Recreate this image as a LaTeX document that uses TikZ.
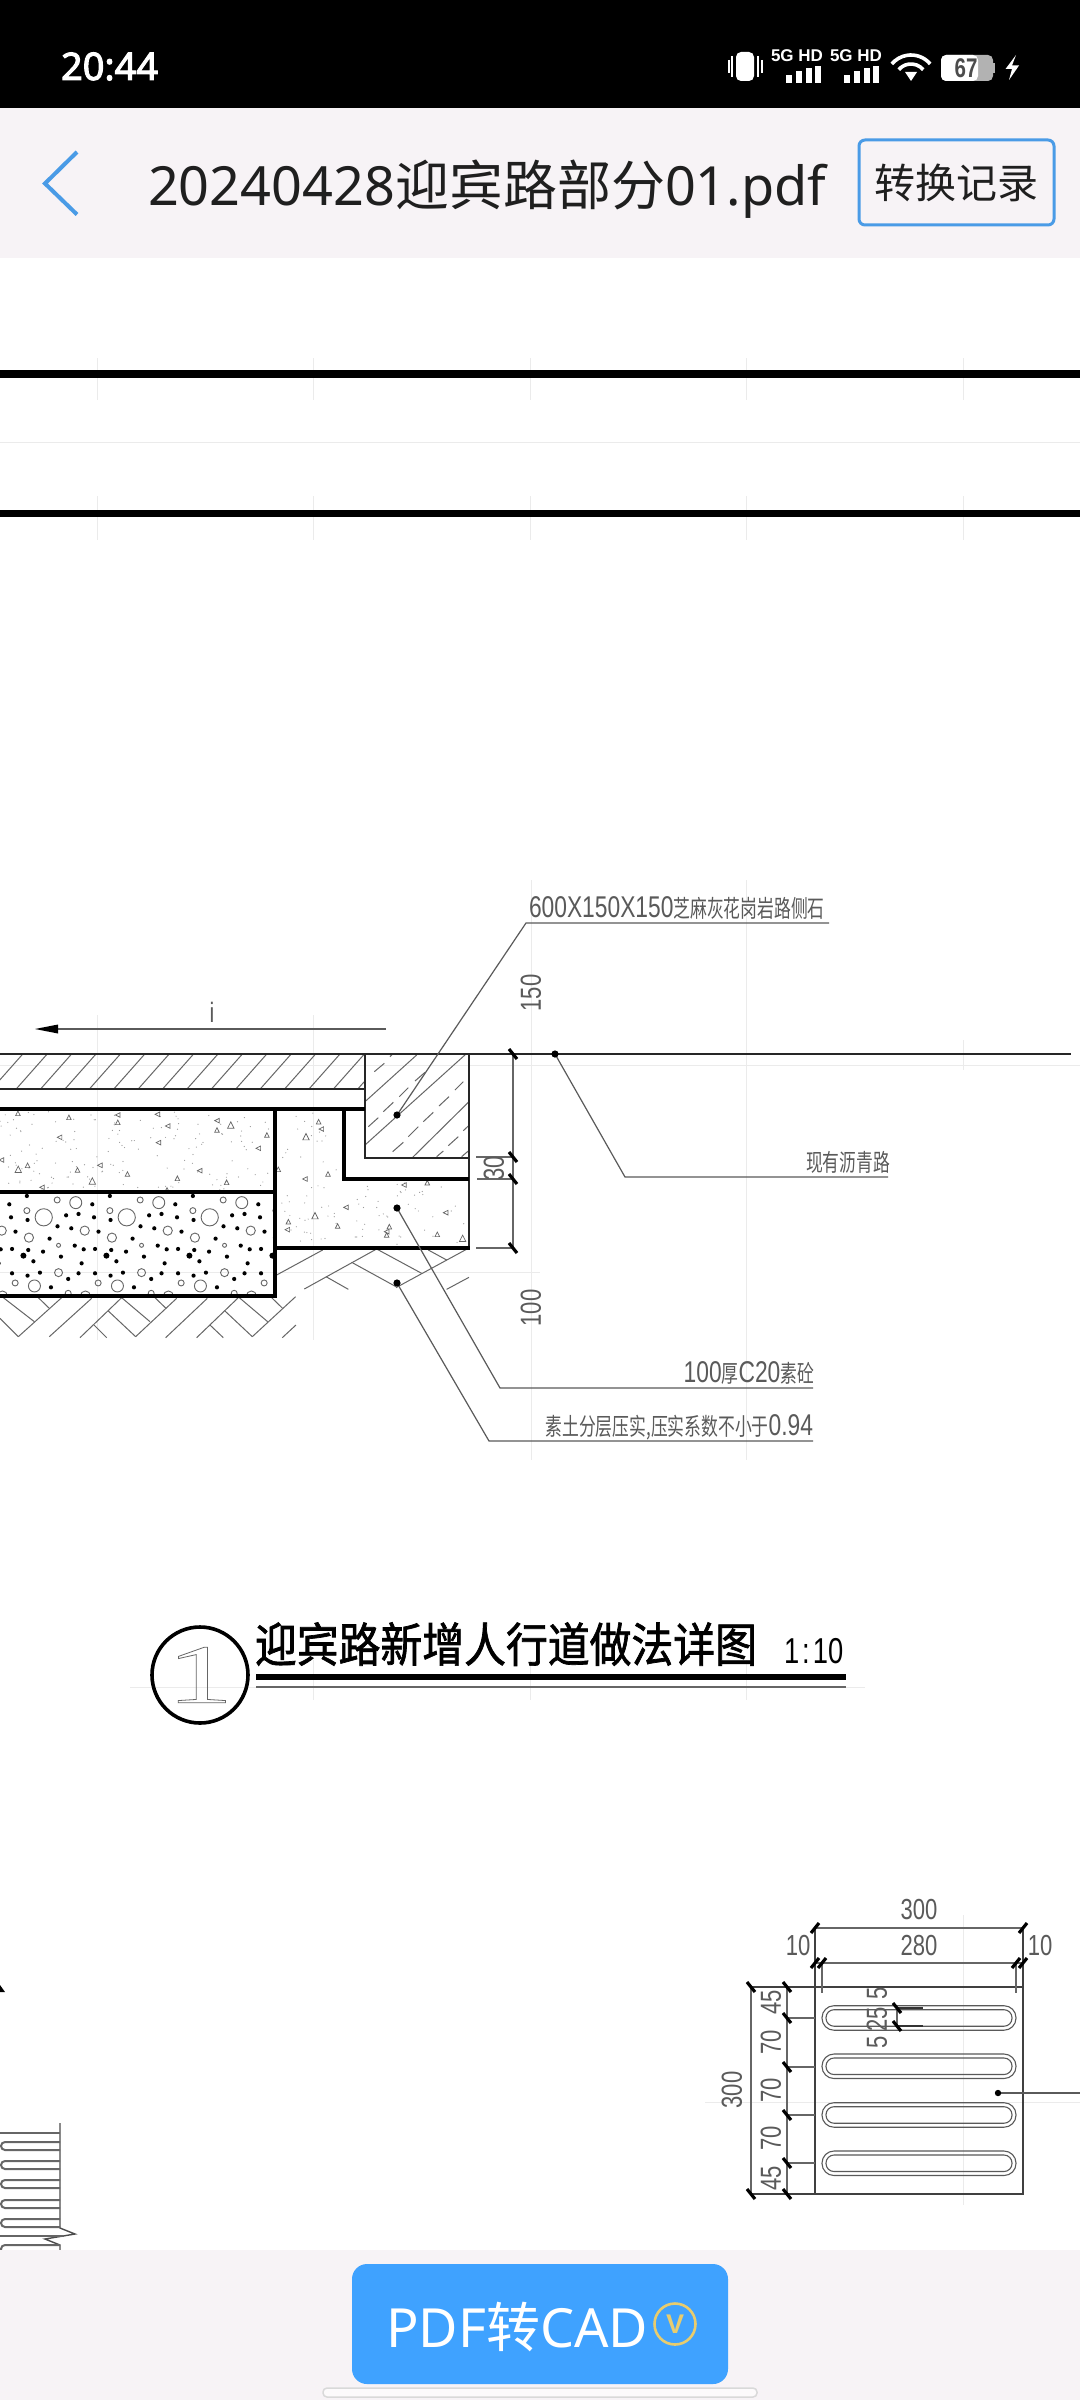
\documentclass[tikz,border=0pt]{standalone}
\usepackage{fontspec}
\setmainfont{Noto Sans}
\newfontfamily\cjkfont{Noto Sans CJK SC}
\newfontfamily\cadfont[FakeStretch=0.76]{Liberation Sans}
\newfontfamily\statusfont{Liberation Sans}
\newfontfamily\cadcjk[FakeStretch=0.7]{Noto Sans CJK SC}
\newfontfamily\cadtitle[FakeStretch=0.89]{Noto Sans CJK SC}
\newfontfamily\serifone[FakeStretch=1.6]{Liberation Serif}
\definecolor{barbg}{HTML}{F7F3F6}
\definecolor{appblue}{HTML}{4A9BE6}
\definecolor{btnblue}{HTML}{3FA2FF}
\definecolor{coingold}{HTML}{E8CC6E}
\definecolor{cadgray}{HTML}{5A5A5A}
\definecolor{faint}{HTML}{EBEBEB}
\newcommand{\fsize}[1]{\fontsize{#1}{#1}\selectfont}
\newcommand{\vtick}[2]{\draw[dimtick] (#1-4,#2-5) -- (#1+4,#2+5);}
\newcommand{\htick}[2]{\draw[dimtick] (#1-4,#2+5) -- (#1+4,#2-5);}
\newcommand{\grit}[4]{\draw[gritline,shift={(#1,#2)},rotate=#4] (-#3pt,-#3pt) -- (#3pt,-#3pt) -- (0pt,#3pt) -- cycle;}
\tikzset{
  txt/.style={inner sep=0pt,outer sep=0pt},
  cadtxt/.style={txt,text=cadgray},
  thinline/.style={line width=1.8pt,black!85},
  thickline/.style={line width=4.2pt,black},
  hatchline/.style={line width=1pt,black!60},
  leader/.style={line width=1.2pt,cadgray},
  dimline/.style={line width=1.4pt,black!60},
  dimtick/.style={line width=3.2pt,black},
  gritline/.style={line width=0.7pt,black!60},
  gridline/.style={line width=0.8pt,faint},
  stad/.style={line width=1.1pt,black!65,rounded corners=#1},
}
\begin{document}
\begin{tikzpicture}[x=1pt,y=-1pt]
\useasboundingbox (0,0) rectangle (1080,2400);
\fill[white] (0,0) rectangle (1080,2400);
% faint grid of the sheet
\foreach \x in {97,313,530,746,963} {
  \draw[gridline] (\x,358) -- (\x,400);
  \draw[gridline] (\x,496) -- (\x,540);
}
\draw[gridline] (0,442) -- (1080,442);
\draw[gridline] (0,1065) -- (1080,1065);
\draw[gridline] (0,1272) -- (540,1272);
\draw[gridline] (97,1015) -- (97,1340);
\draw[gridline] (313,1015) -- (313,1340);
\draw[gridline] (531,880) -- (531,1460);
\draw[gridline] (746,880) -- (746,1460);
\draw[gridline] (963,1040) -- (963,1070);
\draw[gridline] (130,1687) -- (865,1687);
\foreach \x in {313,530,746} \draw[gridline] (\x,1660) -- (\x,1700);
\draw[gridline] (705,2102) -- (1080,2102);
\draw[gridline] (963,1915) -- (963,2205);
% sheet lines
\draw[line width=8pt] (0,374) -- (1080,374);
\draw[line width=7pt] (0,513.5) -- (1080,513.5);
% paving hatch
\begin{scope}
  \clip (0,1054) rectangle (365,1089);
  \foreach \k in {-1,...,14} \draw[hatchline] (47.2+24.4*\k,1054) -- (16.2+24.4*\k,1089);
\end{scope}
% curb hatch
\begin{scope}[shift={(355pt,-1045pt)},x=0.3333pt,y=-0.3333pt]
  \draw[hatchline] (30,170) -- (185,30);
  \draw[hatchline] (30,300) -- (332,28);
  \draw[hatchline] (170,340) -- (342,170);
  \draw[hatchline] (245,335) -- (265,318);
  \draw[hatchline] (320,335) -- (340,318);
  \foreach \a/\b/\c/\d in {58/80/88/55,105/35/112/28,180/108/210/82,133/155/160/128,85/200/115/172,40/245/70/218,300/135/325/110,252/183/282/155,205/230/235/202,160/275/190/245,113/320/145/292,325/257/340/243,280/302/310/275}
    \draw[hatchline] (\a,\b) -- (\c,\d);
\end{scope}
% concrete grit
\pgfmathsetseed{7}
\foreach \i in {1,...,150} {
  \pgfmathsetmacro\rx{rnd*272}
  \pgfmathsetmacro\ry{1111+rnd*79}
  \fill[black!40] (\rx,\ry) circle (0.6pt);
}
\foreach \i in {1,...,45} {
  \pgfmathsetmacro\rx{279+rnd*62}
  \pgfmathsetmacro\ry{1112+rnd*133}
  \fill[black!40] (\rx,\ry) circle (0.6pt);
}
\foreach \i in {1,...,45} {
  \pgfmathsetmacro\rx{345+rnd*122}
  \pgfmathsetmacro\ry{1182+rnd*63}
  \fill[black!40] (\rx,\ry) circle (0.6pt);
}
\begin{scope}[shift={(0pt,-880pt)},x=0.3444pt,y=-0.3333pt]
  \foreach \x/\y/\a in {52/700/0,200/712/0,342/705/90,342/727/0,457/703/90,487/738/90,630/722/90,630/750/0,173/772/90,460/788/90,775/765/0,750/805/90,4/840/90,80/856/0,225/870/0,290/856/90,370/882/0,122/922/90,515/895/0,580/872/90,658/907/0,485/930/0}
    {\grit{\x}{\y}{2.3}{\a}}
  \foreach \x/\y/\a in {670/735/0,53/868/0,268/903/0}
    {\grit{\x}{\y}{3.2}{\a}}
\end{scope}
\begin{scope}[shift={(270pt,-1105pt)},x=0.3333pt,y=-0.3333pt]
  \foreach \x/\y/\a in {146/50/0,154/72/90,25/193/0,105/222/90,174/207/0,402/240/90,472/233/0,228/307/90,55/350/0,52/374/90,203/363/0,358/365/0,350/380/90,350/390/0,527/323/90,502/388/0}
    {\grit{\x}{\y}{2.3}{\a}}
  \foreach \x/\y/\a in {108/95/0,135/332/0,578/400/0}
    {\grit{\x}{\y}{3.2}{\a}}
\end{scope}
% gravel, one tile repeated
\begin{scope}
  \clip (0,1192) rectangle (275,1296);
  \foreach \t in {-83,0,83,166,249} {
    \begin{scope}[shift={(\t pt,-880pt)},x=0.3444pt,y=-0.3333pt]
      \foreach \x/\y in {27/973,78/948,32/1012,80/1020,192/1006,228/1002,167/1039,207/1045,45/1055,144/1076,217/1097,2/1108,35/1107,82/1110,125/1115,97/1144,177/1130,237/1150,35/1180,80/1187,116/1178,228/1180,198/1197,148/1222}
        \fill (\x,\y) circle (2.1pt);
      \fill (68,1127) circle (3pt);
      \foreach \x/\y/\r in {127/1012/8.6,220/968/6,100/1218/6,84/1073/4.6,78/992/3,166/960/3,170/1178/4,5/1052/4.6,44/1209/3,170/1096/2,198/1240/3,248/1248/5}
        \draw[line width=0.9pt,black!60] (\x,\y) circle (\r pt);
    \end{scope}
  }
\end{scope}
% soil hatch
\begin{scope}[shift={(0pt,-1285pt)},x=0.3333pt,y=-0.3333pt]
  \foreach \a/\b/\c/\d in {0/100/55/155,55/155/185/38,10/38/103/110,115/38/148/70,148/155/275/40,240/158/365/38,282/120/320/158,325/78/407/155,365/38/450/110,407/155/530/40,465/38/498/70,497/158/622/40,590/158/715/38,630/120/670/158,675/78/757/155,718/38/803/110,757/155/887/35,815/38/848/70,847/158/888/120}
    \draw[hatchline] (\a,\b) -- (\c,\d);
\end{scope}
\begin{scope}[shift={(270pt,-1105pt)},x=0.3333pt,y=-0.3333pt]
  \foreach \a/\b/\c/\d in {20/510/158/435,103/552/320/432,168/515/235/553,245/472/378/545,320/432/455/505,378/548/595/430,475/435/530/465,530/553/597/517}
    \draw[hatchline] (\a,\b) -- (\c,\d);
\end{scope}
% section outlines
\draw[thinline] (0,1054) -- (1071,1054);
\draw[thinline] (0,1089) -- (365,1089);
\draw[thinline] (365,1054) -- (365,1158) -- (469,1158);
\draw[thinline] (469,1054) -- (469,1248);
\draw[thickline] (0,1109) -- (365,1109);
\draw[thickline] (0,1192) -- (275,1192);
\draw[thickline] (0,1296) -- (275,1296) -- (275,1109);
\draw[thickline] (344,1109) -- (344,1179) -- (469,1179);
\draw[thickline] (275,1248) -- (470,1248);
% flow arrow
\draw[leader] (386,1029) -- (56,1029);
\fill[black] (35,1029) -- (58,1024.5) -- (58,1033.5) -- cycle;
\node[cadtxt,font=\cadfont\fsize{28}] (slopelabel) at (212,1012) {i};
% right dimensions
\draw[dimline] (513,1054) -- (513,1248);
\foreach \a/\b in {476/1157,477/1179,476/1248} \draw[dimline] (\a,\b) -- (513,\b);
\foreach \y in {1054,1157,1179,1248} {\vtick{513}{\y}}
\node[cadtxt,rotate=90,font=\cadfont\fsize{29}] (dimtop) at (531,993) {150};
\node[cadtxt,rotate=90,font=\cadfont\fsize{29}] (dimgap) at (494,1168) {30};
\node[cadtxt,rotate=90,font=\cadfont\fsize{29}] (dimbase) at (531,1308) {100};
% callouts
\coordinate (curbdot) at (397,1115);
\coordinate (asphaltdot) at (555,1054);
\coordinate (concretedot) at (397,1208);
\coordinate (soildot) at (397,1283);
\coordinate (curbbend) at (526,923);
\coordinate (curbend) at (829,923);
\coordinate (asphaltbend) at (625,1177);
\coordinate (asphaltend) at (888,1177);
\coordinate (concretebend) at (500,1388);
\coordinate (concreteend) at (813,1388);
\coordinate (soilbend) at (489,1441);
\coordinate (soilend) at (813,1441);
\draw[leader] (curbdot) -- (curbbend) -- (curbend);
\draw[leader] (asphaltdot) -- (asphaltbend) -- (asphaltend);
\draw[leader] (concretedot) -- (concretebend) -- (concreteend);
\draw[leader] (soildot) -- (soilbend) -- (soilend);
\foreach \n in {curbdot,asphaltdot,concretedot,soildot} \fill (\n) circle (3.6pt);
\node[cadtxt,anchor=base west,font=\cadcjk\fsize{24}] (curblabel) at (529,917) {{\cadfont\fsize{30}600X150X150}芝麻灰花岗岩路侧石};
\node[cadtxt,anchor=base east,font=\cadcjk\fsize{24}] (asphaltlabel) at (890,1171) {现有沥青路};
\node[cadtxt,anchor=base east,font=\cadcjk\fsize{24}] (concretelabel) at (814,1382) {{\cadfont\fsize{30}100}厚{\cadfont\fsize{30}C20}素砼};
\node[cadtxt,anchor=base east,font=\cadcjk\fsize{24}] (soillabel) at (813,1435) {素土分层压实,压实系数不小于{\cadfont\fsize{30}0.94}};
% detail title
\node[draw=black,line width=3.6pt,circle,minimum size=96pt,inner sep=0pt] (detailmark) at (200,1675) {};
\node[txt,text=black!60,font=\serifone\fsize{84}] (detailnum) at (200,1675) {\special{pdf:code 1 Tr 0.8 w}1\special{pdf:code 0 Tr 1 w}};
\node[txt,anchor=base west,font=\cadtitle\fsize{47}] (detailtitle) at (255,1662) {\special{pdf:code 2 Tr 0.7 w}迎宾路新增人行道做法详图\special{pdf:code 0 Tr 1 w}};
\node[txt,anchor=base west,font=\cadfont\fsize{36}] (detailscale) at (784,1663) {1\kern3pt:\kern3pt 10};
\draw[line width=6pt] (256,1677) -- (846,1677);
\draw[line width=1.5pt,black!60] (256,1687) -- (846,1687);
% paver plan
\draw[dimline,black!75] (815,1928) -- (815,2194) -- (1023,2194) -- (1023,1928);
\draw[dimline,black!75] (751,1987) -- (1023,1987);
\draw[dimline,black!75] (751,2194) -- (815,2194);
\draw[dimline] (815,1928) -- (1023,1928);
\draw[dimline] (815,1963) -- (1023,1963);
\draw[dimline] (822,1963) -- (822,1993);
\draw[dimline] (1016,1963) -- (1016,1993);
\draw[dimline] (751,1987) -- (751,2194);
\draw[dimline] (787,1987) -- (787,2194);
\foreach \y in {2018,2067,2115,2163} \draw[dimline] (787,\y) -- (815,\y);
\foreach \y in {1987,2018,2067,2115,2163,2194} {\vtick{787}{\y}}
\foreach \y in {1987,2194} {\vtick{751}{\y}}
\foreach \x in {815,1023} {\htick{\x}{1928}}
\foreach \x in {815,822,1016,1023} {\htick{\x}{1963}}
\foreach \y in {2005.7,2054,2102.7,2151} {
  \draw[stad=12pt] (822,\y) rectangle (1016,\y+24.5);
  \draw[stad=8pt] (826,\y+4) rectangle (1012,\y+20.5);
}
\draw[dimline] (897,2008) -- (897,2026);
\draw[dimline,black!80] (897,2008) -- (923,2008);
\draw[dimline,black!80] (897,2026) -- (923,2026);
\vtick{897}{2008}
\vtick{897}{2026}
\coordinate (paverdot) at (998,2093);
\coordinate (paverout) at (1080,2093);
\draw[leader] (paverdot) -- (paverout);
\fill (paverdot) circle (3.2pt);
\node[cadtxt,font=\cadfont\fsize{29}] (dimwide) at (919,1909) {300};
\node[cadtxt,font=\cadfont\fsize{29}] (diminner) at (919,1945) {280};
\node[cadtxt,font=\cadfont\fsize{29}] (dimleft) at (798,1945) {10};
\node[cadtxt,font=\cadfont\fsize{29}] (dimright) at (1040,1945) {10};
\foreach \n/\t/\y in {dima/45/2002,dimb/70/2042,dimc/70/2090,dimd/70/2138,dime/45/2178}
  \node[cadtxt,rotate=90,font=\cadfont\fsize{29}] (\n) at (771,\y) {\t};
\node[cadtxt,rotate=90,font=\cadfont\fsize{29}] (dimtall) at (732,2090) {300};
\node[cadtxt,rotate=90,font=\cadfont\fsize{29}] (dimrida) at (877,2042.7) {5};
\node[cadtxt,rotate=90,font=\cadfont\fsize{29}] (dimridb) at (877,2019) {25};
\node[cadtxt,rotate=90,font=\cadfont\fsize{29}] (dimridc) at (877,1993.3) {5};
% edge of the neighbouring plan
\draw[line width=1.4pt,black!70] (60,2123) -- (60,2228) -- (75,2234) -- (45,2239) -- (60,2245) -- (60,2251);
\draw[line width=1.4pt,black!60] (0,2133) -- (60,2133);
\draw[line width=1.4pt,black!60] (0,2236) -- (64,2236);
\foreach \y in {2142,2161,2180,2200,2219}
  \draw[line width=2pt,black!60,rounded corners=4pt] (60,\y) -- (1,\y) -- (1,\y+8) -- (60,\y+8);
\draw[line width=2pt,black!60,rounded corners=4pt] (60,2245) -- (1,2245) -- (1,2251);
\fill (0,1985) -- (5,1992) -- (0,1992) -- cycle;
% top bars
\fill[black] (0,0) rectangle (1080,108);
\fill[barbg] (0,108) rectangle (1080,258);
\node[txt,anchor=base west,text=white,font=\fsize{38}] (clock) at (61,80) {\special{pdf:code 2 Tr 1 w}20:44\special{pdf:code 0 Tr 1 w}};
\fill[white,rounded corners=5pt] (736,52) rectangle (754,81);
\foreach \x/\a/\b in {729/60/73,732/56/77,758/56/77,762/60/73} \draw[white,line width=1.4pt] (\x,\a) -- (\x,\b);
\node[txt,anchor=base west,text=white,font=\statusfont\bfseries\fsize{17}] (netone) at (771,62) {5G HD};
\node[txt,anchor=base west,text=white,font=\statusfont\bfseries\fsize{17}] (nettwo) at (830,62) {5G HD};
\foreach \s in {786,844} \foreach \d/\e in {0/75,10/71,20/68,29/66}
  \fill[white] (\s+\d,\e) rectangle (\s+\d+6,83);
\foreach \r in {25,16} \draw[white,line width=3.6pt] (911,80) ++(40:\r pt) arc[start angle=40,end angle=140,radius=\r pt];
\fill[white] (911,81) -- (905,72) -- (917,72) -- cycle;
\fill[black!30,rounded corners=5pt] (941,55) rectangle (993,81);
\fill[white,rounded corners=5pt] (941,55) rectangle (978,81);
\fill[black!30] (993,63) rectangle (995,73);
\node[txt,text=black!70,font=\cadfont\bfseries\fsize{27}] (battlevel) at (966,68) {67};
\fill[white] (1016,55) -- (1005.5,69) -- (1012,69) -- (1009,80) -- (1019,65.5) -- (1012,65.5) -- cycle;
\coordinate (chevtop) at (77,152);
\coordinate (chevtip) at (45,183.5);
\coordinate (chevlow) at (77,214.5);
\draw[appblue,line width=4pt] (chevtop) -- (chevtip) -- (chevlow);
\node[txt,anchor=base west,text=black!88,font=\fsize{54}] (filetitle) at (148,206) {20240428{\cjkfont 迎宾路部分}01.pdf};
\node[draw=appblue,line width=3pt,rounded corners=6pt,minimum width=195pt,minimum height=85pt,inner sep=0pt,text=black!88,font=\cjkfont\fsize{41}] (history) at (956.5,182.5) {\raisebox{-2pt}{转换记录}};
% bottom bar
\fill[barbg] (0,2250) rectangle (1080,2400);
\node[fill=btnblue,rounded corners=15pt,minimum width=376pt,minimum height=120pt,inner sep=0pt] (cadbtn) at (540,2324) {};
\node[txt,anchor=base west,text=white,font=\fsize{54}] (cadlabel) at (386,2347) {PDF{\cjkfont 转}CAD};
\node[circle,draw=coingold,line width=2.6pt,minimum size=41pt,inner sep=0pt,text=coingold,font=\statusfont\bfseries\fsize{27}] (coin) at (675,2324) {V};
\draw[black!15,fill=barbg!40!white,line width=1.5pt,rounded corners=4pt] (323,2388) rectangle (757,2397);
\end{tikzpicture}
\end{document}
